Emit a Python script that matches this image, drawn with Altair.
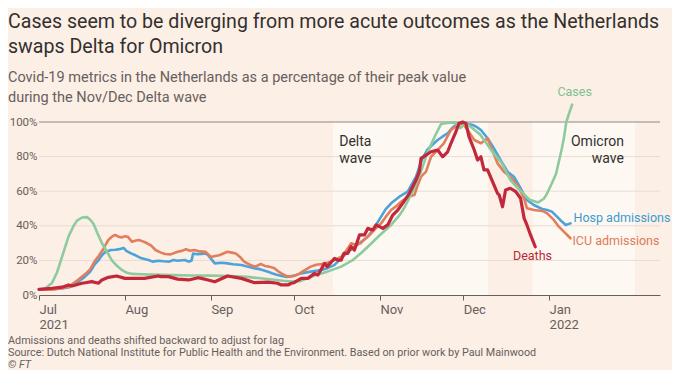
import altair as alt
import pandas as pd

FONT = "Roboto"
BG = "#FCEFE6"
BAND = "#FEF8F3"

# ---- data (x = days since 1 Jul 2021, y = % of Nov/Dec Delta peak) ----
cases_day = [0, 2.5, 4.7, 6.5, 8.3, 10.7, 12.5, 13.7, 15.5, 17.3, 18.5, 19.7, 21, 22.7, 24.5, 26.3, 28, 29.9,
             31.5, 33.5, 37, 41, 48, 55, 62, 69, 75, 79, 84, 88, 91, 94, 97, 100, 104, 109, 113, 116, 119,
             123, 127, 130, 132, 135, 138, 140, 143, 145, 147, 150, 152, 154, 157, 159, 161, 163, 165, 167,
             170, 172, 174, 177, 180, 182, 183, 185, 186.5, 187.5, 188.5, 189.3, 190.2, 191.2, 192.3]
cases_val = [3, 4, 7, 13, 22, 34, 40, 43, 44.8, 45, 43.5, 41, 36, 30, 25, 20, 17, 14.5,
             13, 12.2, 12, 11.8, 11.5, 11.3, 11.2, 11, 10.5, 9.8, 9, 8.2, 7.8, 8, 9.8, 11.5, 13.5, 16.4, 20, 24, 28.5,
             34.7, 40.5, 46, 51, 60.7, 72.3, 82, 92.5, 98.8, 99.5, 99.8, 96.5, 99.5, 95.5, 93, 88.6, 84, 80, 76,
             66.5, 63, 59.7, 55, 53.5, 55.5, 57.8, 64.6, 70, 77, 84, 90.5, 100, 105, 110]

hosp_day = [0, 4, 8, 11, 14, 16.5, 18.5, 20, 21.5, 22.7, 24, 26, 27.5, 29, 30.5, 31.5, 33, 35, 37, 39.5, 41,
            43, 45, 47, 48.5, 50, 52.6, 54, 55, 55.6, 57, 58.6, 60, 61, 62, 63.4, 66, 68, 70, 73, 75.5, 78,
            80, 82.6, 84, 86, 88, 89.5, 92, 94.6, 98, 102, 104, 106.5, 109, 111.5, 114, 116, 118.6, 121,
            123.4, 125, 127, 130, 133, 136, 138, 140, 142, 143.8, 145.5, 147.4, 149, 151, 153.4, 156.4, 158,
            159.4, 161.8, 164, 166.5, 169, 171.3, 173.7, 176, 178.5, 181.5, 183.3, 185, 186.3, 188, 190, 191.7]
hosp_val = [3, 3.2, 3.8, 4.5, 7.5, 10.5, 13.5, 17.5, 20.2, 23, 25, 26, 26.2, 26.5, 27.2, 25.5, 24.2, 22.8, 21.2,
            20.2, 19.3, 19.8, 19.5, 19.3, 20.2, 19.8, 20.2, 19.3, 19.8, 24, 23.6, 23.7, 24, 23, 21, 18.3, 18.6,
            18.3, 17.8, 17.3, 16.3, 15.4, 14.8, 13.5, 12.6, 11.6, 10.8, 10.5, 11.2, 12.5, 13.5, 14.5, 15.5,
            17.3, 21.2, 25, 27.9, 30.5, 33.7, 39, 45.3, 49.5, 53, 56.8, 59.7, 68.4, 78, 83.8, 87, 89.6, 91.5,
            93.5, 96.5, 99.2, 99.6, 98.3, 97, 95.4, 90.6, 85, 78, 71.3, 68.4, 61.7, 54.9, 52, 49.7, 49.1,
            48.2, 46.2, 43.4, 40.5, 41.4]

icu_day = [0, 4, 8, 11, 14, 17, 18.5, 20, 21.5, 23, 24, 25, 26.5, 27.5, 29, 30, 31, 32, 33.5, 35, 36, 37.5,
           39, 40.5, 42, 44, 45.5, 47.5, 50, 51.5, 53, 54.5, 56, 58, 60, 62, 63.5, 65, 66.5, 68, 69.5, 71,
           72.5, 74, 76, 78, 80, 81.5, 83, 85, 86, 87.4, 89, 90, 92, 93.5, 95, 96.5, 98, 100, 102, 104,
           105.4, 107, 109, 111, 112.6, 114, 116, 118, 119.8, 121.5, 123.4, 125, 127, 129, 130.6, 133,
           135.4, 136.5, 137.8, 139.6, 141.4, 143.8, 146, 148.6, 151, 152.8, 154.6, 157, 159.4, 161.8,
           163.2, 165.4, 167.7, 170, 172.5, 175, 176, 178.5, 181.5, 183.3, 185.7, 187.5, 189.3, 191.7]
icu_val = [3, 3, 3.8, 5, 8.7, 12.5, 15, 19.3, 22.5, 26, 29, 31.8, 34, 34.7, 33.5, 33.3, 34, 33.7, 30.8, 31.5,
           31.8, 31, 29.9, 28.5, 26, 24.5, 23.7, 23.5, 25, 25.5, 26.4, 25.6, 26, 25.2, 25, 22, 22.5, 23, 24,
           25, 24.5, 24, 22, 19.3, 17.5, 16.4, 17.9, 16.8, 16.4, 15.4, 14, 12.5, 11.2, 10.6, 11, 12, 13.5,
           15, 16.4, 17.5, 17.9, 18.6, 19.3, 20.5, 22, 26, 29.9, 29, 29.9, 33, 35.6, 38.5, 41.4, 45, 49.1,
           51.5, 53.9, 56.8, 57.8, 63, 68.4, 71.3, 79.9, 83.8, 87.7, 95.4, 98.3, 99.2, 95.4, 89.6, 87.7,
           90.6, 84.8, 76.1, 71.3, 68.4, 63.6, 55.9, 50.1, 49.1, 48.6, 47.2, 43.4, 39.5, 36.6, 32.8]

deaths_day = [0, 4.7, 8.3, 10.7, 11.9, 15.5, 16.7, 19, 21.5, 22.7, 25, 28, 31, 34.6, 38, 43, 44, 46.7, 49, 50,
              54, 57.4, 58.6, 61, 63.4, 68, 73, 77.8, 82.6, 86, 87.4, 89.8, 91, 92, 94.6, 97, 99.4, 100.6,
              103, 104, 106.6, 107.8, 109, 110, 111.4, 112.6, 113.8, 115.6, 117.4, 118.6, 120.4, 121.6, 124,
              125.8, 127.6, 129.4, 131.2, 133.6, 134.8, 136, 137.2, 137.8, 139.6, 141.4, 143.8, 145.6, 147.4,
              148.6, 150.4, 151.5, 152.8, 154, 155.1, 157, 158.2, 159.4, 160.5, 161.8, 163.6, 165.4, 166,
              167.2, 168.3, 170, 172, 173.7, 175, 176, 177.3, 179]
deaths_val = [3.3, 3.9, 4.5, 5.8, 5.2, 6.8, 7.1, 7.7, 6.8, 8.7, 10.2, 11, 9.6, 9.6, 9.6, 11, 10.6, 10.6, 9.6, 9.2,
              8.7, 10, 9.6, 8.7, 7.7, 11, 9.6, 7.1, 7.4, 6.8, 5.8, 5.8, 6.8, 7.1, 9.6, 9.6, 12.5, 11.6,
              18.3, 16.4, 21.2, 20.2, 20.2, 24.1, 24.1, 28, 26, 34.7, 34.7, 38.5, 37.6, 40.5, 38.5,
              40.5, 46.2, 49.1, 53, 58.8, 62.6, 66.5, 71.3, 79, 80.9, 82.8, 83.8, 79.9, 82.8,
              87.7, 94.5, 99.2, 100, 99.2, 91.5, 83.8, 78, 79.9, 72.3, 72.3, 65.5, 58.8, 57.8,
              51, 60.7, 61.7, 59.7, 55.9, 44.3, 40.5, 34.7, 27.9]

series_names = ["Hosp admissions", "ICU admissions", "Cases", "Deaths"]
series_colors = ["#4BA3D9", "#E27E5C", "#8DCB9E", "#C2283A"]

band_start = ["2021-10-15T00:00:00", "2021-12-26T00:00:00"]
band_end = ["2021-12-10T00:00:00", "2022-02-01T00:00:00"]

y_ticks = [0, 20, 40, 60, 80, 100]
grid_vals = [20, 40, 60, 80]
top_val = [100]

BASE = pd.Timestamp("2021-07-01")


def to_dates(days):
    return [(BASE + pd.to_timedelta(d, unit="D")).strftime("%Y-%m-%dT%H:%M:%S") for d in days]


frames = []
for name, d, v in [("Cases", cases_day, cases_val), ("Hosp admissions", hosp_day, hosp_val),
                   ("ICU admissions", icu_day, icu_val), ("Deaths", deaths_day, deaths_val)]:
    frames.append(pd.DataFrame({"date": to_dates(d), "value": v, "series": name}))
df = pd.concat(frames, ignore_index=True)

# annotation labels (data coordinates)
lab_text = ["Cases", "Hosp admissions", "ICU admissions", "Deaths"]
lab_day = [193.2, 192.8, 192.4, 178]
lab_val = [117.3, 44.5, 31.2, 22.5]
lab_align = ["center", "left", "left", "center"]
lab_color = ["#7DC28E", "#3D9AD1", "#DE7A58", "#B8283A"]

wave_text = [["Delta", "wave"], ["Omicron", "wave"]]
wave_day = [108.3, 211]
wave_val = [88.4, 78.6]

x_dom = [alt.DateTime(year=2021, month=7, date=1), alt.DateTime(year=2022, month=2, date=10)]
x_ticks = [alt.DateTime(year=2021, month=m, date=1) for m in range(7, 13)] + [alt.DateTime(year=2022, month=1, date=1)]

xscale = alt.Scale(domain=x_dom)
yscale = alt.Scale(domain=[0, 100], nice=False)

x_axis = alt.Axis(
    values=x_ticks, title=None, grid=False,
    labelExpr="(month(datum.value)==0 || month(datum.value)==6) ? [timeFormat(datum.value,'%b'), timeFormat(datum.value,'%Y')] : timeFormat(datum.value,'%b')",
    labelAlign="left", labelBaseline="top", labelPadding=3, labelLineHeight=15,
    tickSize=5, tickColor="#66605C", domainColor="#66605C", domainWidth=1,
    labelFont=FONT, labelFontSize=13, labelColor="#66605C", labelFlush=False, labelOverlap=False,
)
y_axis = alt.Axis(
    values=y_ticks, title=None, grid=False, ticks=False, domain=False,
    labelExpr="datum.value + '%'", labelPadding=2, labelFont=FONT, labelFontSize=11.5,
    labelColor="#66605C", labelOverlap=False, labelFlush=False, labelBound=False,
)


def X(field):
    return alt.X(field, scale=xscale, axis=x_axis)


def Y(field):
    return alt.Y(field, scale=yscale, axis=y_axis)


bands = alt.Chart(pd.DataFrame({"s": band_start, "e": band_end})).mark_rect(color=BAND).encode(
    x=X("s:T"), x2="e:T", y=alt.value(0), y2=alt.value(173),
)

grid = alt.Chart(pd.DataFrame({"g": grid_vals})).mark_rule(color="#E8DCD2", strokeWidth=1).encode(y=Y("g:Q"))
top = alt.Chart(pd.DataFrame({"g": top_val})).mark_rule(color="#8F8782", strokeWidth=1).encode(y=Y("g:Q"))

layers = [bands, grid, top]

# wave labels
for lines, d, align in zip(wave_text, wave_day, ["left", "right"]):
    wdf = pd.DataFrame({"date": to_dates([d, d]), "value": wave_val, "t": lines})
    layers.append(
        alt.Chart(wdf).mark_text(align=align, baseline="middle", font=FONT, fontSize=14, color="#33302E").encode(
            x=X("date:T"), y=Y("value:Q"), text="t:N"
        )
    )

for name, col in zip(series_names, series_colors):
    sw = 3.2 if name == "Deaths" else 2.6
    layers.append(
        alt.Chart(df).transform_filter(alt.datum.series == name).mark_line(
            color=col, strokeWidth=sw, strokeJoin="round", strokeCap="round", clip=False
        ).encode(x=X("date:T"), y=Y("value:Q"))
    )

for t, d, v, a, c in zip(lab_text, lab_day, lab_val, lab_align, lab_color):
    ldf = pd.DataFrame({"date": to_dates([d]), "value": [v], "t": [t]})
    layers.append(
        alt.Chart(ldf).mark_text(align=a, baseline="middle", font=FONT, fontSize=12.5, color=c).encode(
            x=X("date:T"), y=Y("value:Q"), text="t:N"
        )
    )


def txt(s, x, y, size, color, style="normal"):
    return alt.Chart(pd.DataFrame({"a": [0]})).mark_text(
        align="left", baseline="alphabetic", font=FONT, fontSize=size, color=color, fontStyle=style
    ).encode(x=alt.value(x), y=alt.value(y), text=alt.value(s))


title1 = "Cases seem to be diverging from more acute outcomes as the Netherlands"
title2 = "swaps Delta for Omicron"
sub1 = "Covid-19 metrics in the Netherlands as a percentage of their peak value"
sub2 = "during the Nov/Dec Delta wave"
foot1 = "Admissions and deaths shifted backward to adjust for lag"
foot2 = "Source: Dutch National Institute for Public Health and the Environment. Based on prior work by Paul Mainwood"
foot3 = "© FT"

L = -31
layers += [
    txt(title1, L, -94, 19.6, "#33302E"),
    txt(title2, L, -69, 19.6, "#33302E"),
    txt(sub1, L, -40, 14.5, "#66605C"),
    txt(sub2, L, -20, 14.5, "#66605C"),
    txt(foot1, L, 221.5, 10.8, "#66605C"),
    txt(foot2, L, 234, 10.8, "#66605C"),
    txt(foot3, L, 246, 10.8, "#66605C", "italic"),
]

chart = alt.layer(*layers).properties(
    width=621, height=173,
    autosize=alt.AutoSizeParams(type="none"),
    padding={"left": 31, "top": 114, "right": 12, "bottom": 75},
    background=BG,
).configure_view(stroke=None).configure_axis(labelOverlap=False)

chart.save("out.html", embed_options={"renderer": "svg", "actions": False})
